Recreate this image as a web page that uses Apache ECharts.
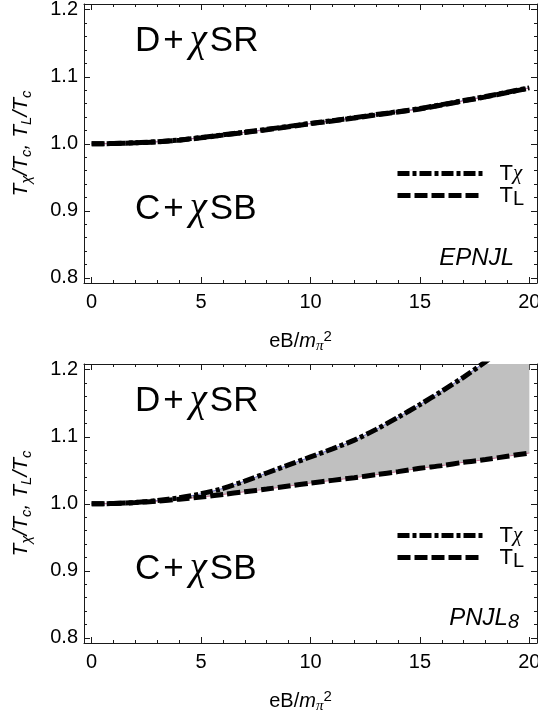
<!DOCTYPE html>
<html>
<head>
<meta charset="utf-8">
<script src="https://cdn.jsdelivr.net/npm/echarts@6/dist/echarts.min.js"></script>
<style>
  html, body { margin: 0; padding: 0; background: #fff; }
  #chart { width: 538px; height: 719px; }
</style>
</head>
<body>
<div id="chart"></div>
<script>
// Magnetic field strength eB / m_pi^2
const eB = [0, 1, 2, 3, 4, 5, 6, 7, 8, 9, 10, 11, 12, 13, 14, 15, 16, 17, 18, 19, 20];

// EPNJL model: chiral and deconfinement temperatures (in units of Tc)
const epnjlTchi = [1.000, 1.0005, 1.0016, 1.0032, 1.0058, 1.0094, 1.0134, 1.0175, 1.0216, 1.026, 1.0305,
                   1.0346, 1.039, 1.0436, 1.048, 1.0526, 1.0585, 1.0645, 1.0705, 1.077, 1.0835];
const epnjlTL   = [1.000, 1.0005, 1.0015, 1.003, 1.0055, 1.009, 1.013, 1.017, 1.021, 1.0255, 1.030,
                   1.034, 1.0385, 1.043, 1.0475, 1.052, 1.058, 1.064, 1.070, 1.0765, 1.083];

// PNJL8 model
const pnjl8Tchi = [1.000, 1.0005, 1.002, 1.005, 1.009, 1.015, 1.023, 1.034, 1.046, 1.058, 1.070,
                   1.082, 1.095, 1.111, 1.129, 1.148, 1.168, 1.189, 1.212, 1.237, 1.263];
const pnjl8TL   = [1.000, 1.0005, 1.002, 1.004, 1.007, 1.010, 1.014, 1.018, 1.022, 1.0265, 1.031,
                   1.035, 1.039, 1.0435, 1.048, 1.053, 1.057, 1.062, 1.066, 1.071, 1.0757];

// Ticks
const xMajor = [0, 5, 10, 15, 20];
const xMinor = [1, 2, 3, 4, 6, 7, 8, 9, 11, 12, 13, 14, 16, 17, 18, 19];
const yMajor = [0.8, 0.9, 1.0, 1.1, 1.2];
const yMinor = [0.82, 0.84, 0.86, 0.88, 0.92, 0.94, 0.96, 0.98,
                1.02, 1.04, 1.06, 1.08, 1.12, 1.14, 1.16, 1.18];
const xTickLabels = ['0', '5', '10', '15', '20'];
const yTickLabels = ['0.8', '0.9', '1.0', '1.1', '1.2'];

const X_MIN = -0.35, X_MAX = 20.35;
const Y_MIN = 0.7925, Y_MAX = 1.2085;

const SANS = '"Liberation Sans", Arial, sans-serif';
const SERIF = '"Liberation Serif", "Times New Roman", serif';
const FRAME = '#1a1a1a';

function nearestLabel(values, labels, v) {
  let best = 0;
  for (let i = 1; i < values.length; i++) {
    if (Math.abs(values[i] - v) < Math.abs(values[best] - v)) best = i;
  }
  return labels[best];
}

function pairs(ys) { return eB.map((x, i) => [x, ys[i]]); }

const xTitleRich = {
  r:   { fontFamily: SANS, fontSize: 20, color: '#000', lineHeight: 25 },
  i:   { fontFamily: SANS, fontSize: 20, fontStyle: 'italic', color: '#000', lineHeight: 25 },
  sub: { fontFamily: SERIF, fontSize: 15, fontStyle: 'italic', color: '#000', lineHeight: 15, verticalAlign: 'bottom' },
  sup: { fontFamily: SANS, fontSize: 15, color: '#000', lineHeight: 15, verticalAlign: 'top' }
};
const yTitleRich = {
  i: { fontFamily: SANS, fontSize: 21, fontStyle: 'italic', color: '#000', lineHeight: 26 },
  r: { fontFamily: SANS, fontSize: 21, fontStyle: 'italic', color: '#000', lineHeight: 26 },
  s: { fontFamily: SANS, fontSize: 15, fontStyle: 'italic', color: '#000', lineHeight: 15, verticalAlign: 'bottom' }
};

function xAxesFor(g) {
  const base = { gridIndex: g, type: 'value', min: X_MIN, max: X_MAX, splitLine: { show: false } };
  const tickStyle = { color: FRAME, width: 1 };
  return [
    Object.assign({}, base, {
      position: 'bottom',
      axisLine: { show: true, onZero: false, lineStyle: { color: FRAME, width: 1 } },
      axisTick: { show: true, inside: true, length: 6, customValues: xMajor, lineStyle: tickStyle },
      axisLabel: {
        show: true, customValues: xMajor, margin: 9, fontSize: 20, fontFamily: SANS, color: '#000',
        formatter: v => nearestLabel(xMajor, xTickLabels, v)
      },
      name: '{r|eB/}{i|m}{sub|π}{sup|2}',
      nameLocation: 'middle',
      nameGap: 46,
      nameTextStyle: { rich: xTitleRich, padding: [0, 20, 0, 0] }
    }),
    Object.assign({}, base, {
      position: 'bottom',
      axisLine: { show: false, onZero: false },
      axisTick: { show: true, inside: true, length: 3, customValues: xMinor, lineStyle: tickStyle },
      axisLabel: { show: false }
    }),
    Object.assign({}, base, {
      position: 'top',
      axisLine: { show: true, onZero: false, lineStyle: { color: FRAME, width: 1 } },
      axisTick: { show: true, inside: true, length: 6, customValues: xMajor, lineStyle: tickStyle },
      axisLabel: { show: false }
    }),
    Object.assign({}, base, {
      position: 'top',
      axisLine: { show: false, onZero: false },
      axisTick: { show: true, inside: true, length: 3, customValues: xMinor, lineStyle: tickStyle },
      axisLabel: { show: false }
    })
  ];
}

function yAxesFor(g) {
  const base = { gridIndex: g, type: 'value', min: Y_MIN, max: Y_MAX, splitLine: { show: false } };
  const tickStyle = { color: FRAME, width: 1 };
  return [
    Object.assign({}, base, {
      position: 'left',
      axisLine: { show: true, onZero: false, lineStyle: { color: FRAME, width: 1 } },
      axisTick: { show: true, inside: true, length: 6, customValues: yMajor, lineStyle: tickStyle },
      axisLabel: {
        show: true, customValues: yMajor, margin: 6, fontSize: 20, fontFamily: SANS, color: '#000',
        formatter: v => nearestLabel(yMajor, yTickLabels, v)
      },
      name: '{i|T}{s|χ}{r|/}{i|T}{s|c}{r|, }{i|T}{s|L}{r|/}{i|T}{s|c}',
      nameLocation: 'middle',
      nameRotate: 90,
      nameGap: 50,
      nameTextStyle: { rich: yTitleRich }
    }),
    Object.assign({}, base, {
      position: 'left',
      axisLine: { show: false, onZero: false },
      axisTick: { show: true, inside: true, length: 3, customValues: yMinor, lineStyle: tickStyle },
      axisLabel: { show: false }
    }),
    Object.assign({}, base, {
      position: 'right',
      axisLine: { show: true, onZero: false, lineStyle: { color: FRAME, width: 1 } },
      axisTick: { show: true, inside: true, length: 6, customValues: yMajor, lineStyle: tickStyle },
      axisLabel: { show: false }
    }),
    Object.assign({}, base, {
      position: 'right',
      axisLine: { show: false, onZero: false },
      axisTick: { show: true, inside: true, length: 3, customValues: yMinor, lineStyle: tickStyle },
      axisLabel: { show: false }
    })
  ];
}

// Grey region between the two transition lines, drawn through the axis scales
function bandSeries(g, upper, lower) {
  return {
    type: 'custom',
    name: 'band',
    xAxisIndex: 4 * g,
    yAxisIndex: 4 * g,
    silent: true,
    clip: true,
    z: 1,
    data: [[eB[0], lower[0]]],
    renderItem: function (params, api) {
      const cs = params.coordSys;
      const top = eB.map((x, i) => api.coord([x, upper[i]]));
      const bottom = eB.map((x, i) => api.coord([x, lower[i]])).reverse();
      return {
        type: 'group',
        clipPath: { type: 'rect', shape: { x: cs.x, y: cs.y, width: cs.width, height: cs.height } },
        children: [{
          type: 'polygon',
          shape: { points: top.concat(bottom) },
          style: { fill: '#c0c0c0', stroke: null }
        }]
      };
    }
  };
}

function panelSeries(g, chi, tl, shaded) {
  const ax = { xAxisIndex: 4 * g, yAxisIndex: 4 * g };
  const common = Object.assign({ type: 'line', symbol: 'none', smooth: 0.3, silent: true, animation: false }, ax);
  const list = [
    Object.assign({}, common, {
      name: 'Tχ', data: pairs(chi), z: 4,
      lineStyle: { color: '#000', width: 5, type: [12, 3, 4, 3], cap: 'butt' }
    }),
    Object.assign({}, common, {
      name: 'TL', data: pairs(tl), z: 4,
      lineStyle: { color: '#000', width: 5, type: [13, 4], cap: 'butt' }
    }),
    Object.assign({}, common, {
      name: 'chi-fine', data: pairs(chi), z: 3,
      lineStyle: { color: '#6b6bc8', width: 1 }
    }),
    Object.assign({}, common, {
      name: 'L-fine', data: pairs(tl), z: 3,
      lineStyle: { color: '#c27193', width: 1 }
    })
  ];
  if (shaded) list.push(bandSeries(g, chi, tl));
  return list;
}

const legendRich = {
  t: { fontFamily: SANS, fontSize: 22, color: '#000', lineHeight: 27 },
  x: { fontFamily: SERIF, fontSize: 21, fontStyle: 'italic', color: '#000', lineHeight: 27 },
  l: { fontFamily: SANS, fontSize: 20, color: '#000', lineHeight: 20, verticalAlign: 'bottom' }
};
function legendFor(top) {
  return {
    data: ['Tχ', 'TL'],
    orient: 'vertical',
    left: 395,
    top: top,
    padding: 0,
    itemGap: 0,
    itemWidth: 85,
    itemHeight: 12,
    selectedMode: false,
    lineStyle: { width: 5, color: '#000' },
    itemStyle: { opacity: 0, color: 'rgba(0,0,0,0)', borderWidth: 0 },
    textStyle: { padding: [0, 0, 0, 12], rich: legendRich },
    formatter: name => (name === 'Tχ' ? '{t|T}{x|χ}' : '{t|T}{l|L}')
  };
}

const regionRich = {
  a: { fontFamily: SANS, fontSize: 35, fill: '#000', lineHeight: 42 },
  p: { fontFamily: SANS, fontSize: 35, fill: '#000', lineHeight: 42, padding: [0, 4, 0, 3] },
  g: { fontFamily: SERIF, fontSize: 39, fontStyle: 'italic', fill: '#000', lineHeight: 42, padding: [0, 3, 0, 2] }
};
const modelRich = {
  m: { fontFamily: SANS, fontSize: 24, fontStyle: 'italic', fill: '#000', lineHeight: 29 },
  n: { fontFamily: SANS, fontSize: 20, fontStyle: 'italic', fill: '#000', lineHeight: 18, verticalAlign: 'bottom' }
};
function textEl(x, y, text, rich, align) {
  return {
    type: 'text', x: x, y: y, silent: true, z: 10,
    style: { text: text, rich: rich, align: align || 'left', verticalAlign: 'middle', fill: '#000' }
  };
}

const chart = echarts.init(document.getElementById('chart'), null, { renderer: 'canvas' });
chart.setOption({
  backgroundColor: '#fff',
  animation: false,
  grid: [
    { left: 84, top: 4, width: 453, height: 279, outerBoundsMode: 'none' },
    { left: 84, top: 364, width: 453, height: 279, outerBoundsMode: 'none' }
  ],
  xAxis: xAxesFor(0).concat(xAxesFor(1)),
  yAxis: yAxesFor(0).concat(yAxesFor(1)),
  legend: [legendFor(162.5), legendFor(524.5)],
  series: panelSeries(0, epnjlTchi, epnjlTL, false).concat(panelSeries(1, pnjl8Tchi, pnjl8TL, true)),
  graphic: [
    textEl(135, 41, '{a|D}{p|+}{g|χ}{a|SR}', regionRich),
    textEl(135, 209, '{a|C}{p|+}{g|χ}{a|SB}', regionRich),
    textEl(514, 258, '{m|EPNJL}', modelRich, 'right'),
    textEl(135, 401, '{a|D}{p|+}{g|χ}{a|SR}', regionRich),
    textEl(135, 569, '{a|C}{p|+}{g|χ}{a|SB}', regionRich),
    textEl(519, 618, '{m|PNJL}{n|8}', modelRich, 'right')
  ]
});
</script>
</body>
</html>
